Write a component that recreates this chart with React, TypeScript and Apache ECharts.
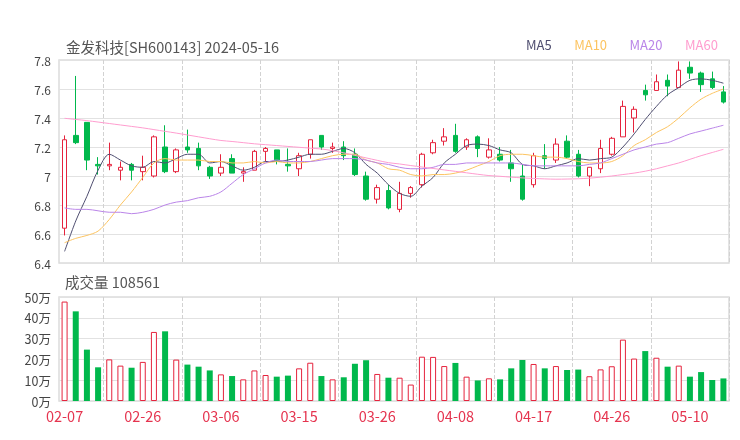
import React, { useEffect, useRef } from 'react';
import * as echarts from 'echarts';

const dates = ['02-07','02-08','02-19','02-20','02-21','02-22','02-23','02-26','02-27','02-28','02-29','03-01','03-04','03-05','03-06','03-07','03-08','03-11','03-12','03-13','03-14','03-15','03-18','03-19','03-20','03-21','03-22','03-25','03-26','03-27','03-28','03-29','04-01','04-02','04-03','04-08','04-09','04-10','04-11','04-12','04-15','04-16','04-17','04-18','04-19','04-22','04-23','04-24','04-25','04-26','04-29','04-30','05-06','05-07','05-08','05-09','05-10','05-13','05-14','05-15'];

const opens = [6.64, 7.28, 7.37, 7.08, 7.07, 7.04, 7.08, 7.03, 7.00, 7.20, 7.03, 7.20, 7.19, 7.06, 7.02, 7.12, 7.02, 7.04, 7.17, 7.18, 7.08, 7.05, 7.15, 7.28, 7.19, 7.20, 7.15, 7.00, 6.84, 6.90, 6.77, 6.88, 6.94, 7.16, 7.24, 7.28, 7.20, 7.27, 7.13, 7.15, 7.09, 7.00, 6.94, 7.14, 7.11, 7.24, 7.15, 7.00, 7.05, 7.15, 7.27, 7.40, 7.59, 7.59, 7.66, 7.61, 7.75, 7.71, 7.67, 7.58];
const closes = [7.25, 7.23, 7.11, 7.07, 7.08, 7.06, 7.04, 7.06, 7.27, 7.03, 7.18, 7.18, 7.07, 7.00, 7.06, 7.02, 7.03, 7.17, 7.19, 7.10, 7.07, 7.14, 7.25, 7.20, 7.20, 7.14, 7.01, 6.84, 6.92, 6.78, 6.88, 6.92, 7.15, 7.23, 7.27, 7.17, 7.25, 7.19, 7.18, 7.11, 7.05, 6.84, 7.14, 7.12, 7.22, 7.13, 7.00, 7.06, 7.19, 7.26, 7.48, 7.46, 7.56, 7.65, 7.62, 7.73, 7.71, 7.63, 7.61, 7.51];
const lows = [6.59, 7.22, 7.04, 7.01, 7.04, 6.97, 6.97, 6.97, 6.99, 7.02, 7.02, 7.16, 7.04, 6.98, 7.00, 7.02, 6.96, 7.04, 7.10, 7.08, 7.03, 7.00, 7.12, 7.18, 7.16, 7.11, 7.00, 6.83, 6.81, 6.77, 6.75, 6.85, 6.92, 7.15, 7.21, 7.16, 7.18, 7.13, 7.12, 7.10, 6.96, 6.83, 6.92, 7.05, 7.09, 7.12, 6.99, 6.93, 7.02, 7.14, 7.27, 7.30, 7.52, 7.59, 7.55, 7.61, 7.67, 7.58, 7.60, 7.50];
const highs = [7.28, 7.69, 7.37, 7.13, 7.23, 7.10, 7.09, 7.14, 7.28, 7.35, 7.19, 7.32, 7.23, 7.07, 7.15, 7.15, 7.06, 7.18, 7.20, 7.18, 7.19, 7.16, 7.25, 7.28, 7.23, 7.24, 7.19, 7.03, 6.94, 6.94, 6.96, 6.93, 7.16, 7.25, 7.33, 7.36, 7.26, 7.28, 7.26, 7.20, 7.18, 7.08, 7.16, 7.22, 7.26, 7.28, 7.18, 7.06, 7.25, 7.27, 7.52, 7.48, 7.63, 7.70, 7.70, 7.79, 7.79, 7.72, 7.72, 7.62];

const ma5 = [6.48, 6.69, 6.86, 7.04, 7.15, 7.11, 7.07, 7.06, 7.10, 7.09, 7.12, 7.15, 7.15, 7.09, 7.10, 7.07, 7.04, 7.06, 7.10, 7.10, 7.11, 7.13, 7.15, 7.15, 7.17, 7.19, 7.16, 7.08, 7.02, 6.94, 6.88, 6.86, 6.93, 6.99, 7.09, 7.15, 7.21, 7.22, 7.21, 7.18, 7.16, 7.08, 7.07, 7.05, 7.07, 7.09, 7.12, 7.11, 7.12, 7.13, 7.20, 7.29, 7.39, 7.48, 7.56, 7.61, 7.66, 7.67, 7.66, 7.64];
const ma10 = [6.54, 6.57, 6.59, 6.62, 6.70, 6.80, 6.89, 6.99, 7.09, 7.12, 7.11, 7.11, 7.11, 7.10, 7.10, 7.09, 7.09, 7.10, 7.09, 7.10, 7.09, 7.09, 7.10, 7.12, 7.14, 7.15, 7.15, 7.11, 7.09, 7.05, 7.04, 7.01, 7.00, 7.01, 7.01, 7.02, 7.04, 7.07, 7.10, 7.14, 7.15, 7.15, 7.14, 7.13, 7.13, 7.12, 7.10, 7.09, 7.09, 7.10, 7.14, 7.21, 7.25, 7.30, 7.34, 7.40, 7.47, 7.53, 7.57, 7.60];
const ma20 = [6.78, 6.77, 6.77, 6.76, 6.75, 6.75, 6.74, 6.75, 6.77, 6.80, 6.82, 6.83, 6.85, 6.86, 6.89, 6.95, 7.01, 7.05, 7.09, 7.11, 7.10, 7.10, 7.10, 7.11, 7.12, 7.12, 7.12, 7.11, 7.09, 7.08, 7.06, 7.05, 7.05, 7.06, 7.08, 7.08, 7.09, 7.09, 7.09, 7.09, 7.09, 7.08, 7.07, 7.07, 7.07, 7.07, 7.07, 7.08, 7.09, 7.12, 7.15, 7.18, 7.20, 7.22, 7.23, 7.26, 7.29, 7.31, 7.33, 7.35];
const ma60 = [7.398, 7.390, 7.382, 7.372, 7.362, 7.352, 7.342, 7.332, 7.320, 7.308, 7.296, 7.283, 7.270, 7.257, 7.245, 7.238, 7.230, 7.222, 7.216, 7.210, 7.204, 7.198, 7.192, 7.186, 7.175, 7.160, 7.142, 7.125, 7.108, 7.092, 7.083, 7.072, 7.062, 7.052, 7.042, 7.032, 7.022, 7.012, 7.003, 6.998, 6.992, 6.987, 6.983, 6.980, 6.978, 6.979, 6.981, 6.985, 6.992, 7.000, 7.010, 7.020, 7.033, 7.050, 7.070, 7.090, 7.115, 7.140, 7.162, 7.184];

// volume in 万 (10k shares)
const volumes = [47.8, 43.1, 24.7, 16.2, 20.0, 17.0, 16.0, 18.8, 33.2, 33.5, 19.9, 17.5, 16.5, 14.7, 12.8, 12.0, 10.4, 14.7, 12.5, 11.7, 12.2, 15.7, 18.4, 12.0, 10.4, 11.4, 17.9, 19.6, 13.0, 11.2, 11.2, 7.9, 21.3, 21.2, 16.8, 18.3, 11.7, 9.9, 10.9, 10.4, 15.7, 19.7, 17.8, 15.7, 16.8, 14.9, 15.1, 11.9, 15.2, 16.7, 29.5, 20.4, 24.0, 20.8, 16.5, 17.0, 11.7, 13.9, 10.1, 10.8561];

const maNames = ['MA5', 'MA10', 'MA20', 'MA60'];
const maColors = ['#4f4e70', '#fcc461', '#ba85e8', '#ff9dcf'];

const UP = '#e5233d';
const DOWN = '#00b84c';
const FONT = "'Noto Sans CJK SC', 'Noto Sans', sans-serif";

export default function App() {
  const ref = useRef<HTMLDivElement>(null);
  useEffect(() => {
    const chart = echarts.init(ref.current!, null, { renderer: 'svg' });
    const candleData = dates.map((_, i) => [opens[i], closes[i], lows[i], highs[i]]);
    const volData = volumes.map((v, i) => ({
      value: v,
      itemStyle: closes[i] >= opens[i]
        ? { color: '#ffffff', borderColor: UP, borderWidth: 1 }
        : { color: DOWN },
    }));
    const maData = [ma5, ma10, ma20, ma60];
    const splitX = {
      show: true,
      interval: (i: number) => i % 7 === 4,
      lineStyle: { type: 'dashed', color: '#d2d2d2', width: 1 },
    };
    chart.setOption({
      animation: false,
      textStyle: { fontFamily: FONT },
      title: [
        {
          text: '金发科技[SH600143] 2024-05-16',
          left: 66, top: 39, padding: 0,
          textStyle: { fontSize: 14.5, fontWeight: 'normal', color: '#555', fontFamily: FONT },
        },
        {
          text: '成交量 ' + Math.round(volumes[volumes.length - 1] * 10000),
          left: 65, top: 274, padding: 0,
          textStyle: { fontSize: 14.5, fontWeight: 'normal', color: '#555', fontFamily: FONT },
        },
      ],
      legend: {
        left: 521, top: 38, padding: 0,
        itemWidth: 0, itemHeight: 0, itemGap: 17.5,
        selectedMode: false,
        textStyle: { fontSize: 13, fontFamily: FONT },
        data: maNames.map((n, i) => ({ name: n, icon: 'rect', textStyle: { color: maColors[i] } })),
      },
      grid: [
        { left: 59, right: 11, top: 60, height: 203, show: true, borderColor: '#dcdcdc', borderWidth: 1.5 },
        { left: 59, right: 11, top: 297, height: 104, show: true, borderColor: '#dcdcdc', borderWidth: 1.5 },
      ],
      xAxis: [
        {
          type: 'category', gridIndex: 0, data: dates, boundaryGap: true,
          axisLine: { show: false }, axisTick: { show: false }, axisLabel: { show: false },
          splitLine: splitX,
        },
        {
          type: 'category', gridIndex: 1, data: dates, boundaryGap: true,
          axisLine: { show: false }, axisTick: { show: false },
          axisLabel: { interval: 6, color: '#e5344f', fontSize: 14.5, margin: 7, fontFamily: FONT },
          splitLine: splitX,
        },
      ],
      yAxis: [
        {
          type: 'value', gridIndex: 0, min: 6.4, max: 7.8, interval: 0.2,
          axisLine: { show: false }, axisTick: { show: false },
          axisLabel: {
            color: '#444', fontSize: 12, margin: 8, fontFamily: FONT,
            formatter: (v: number) => String(Number(v.toFixed(1))),
          },
          splitLine: { lineStyle: { color: '#e2e2e2', width: 1 } },
        },
        {
          type: 'value', gridIndex: 1, min: 0, max: 50, interval: 10,
          axisLine: { show: false }, axisTick: { show: false },
          axisLabel: {
            color: '#444', fontSize: 12.5, margin: 8, fontFamily: FONT,
            formatter: (v: number) => v + '万',
          },
          splitLine: { lineStyle: { color: '#e2e2e2', width: 1 } },
        },
      ],
      series: [
        {
          type: 'candlestick', name: 'K', xAxisIndex: 0, yAxisIndex: 0,
          data: candleData, barWidth: 5,
          itemStyle: { color: '#ffffff', color0: DOWN, borderColor: UP, borderColor0: DOWN, borderWidth: 1 },
        },
        ...maData.map((d, i) => ({
          type: 'line', name: maNames[i], xAxisIndex: 0, yAxisIndex: 0,
          data: d, showSymbol: false, symbol: 'none', smooth: 0.3,
          lineStyle: { color: maColors[i], width: 1 },
          itemStyle: { color: maColors[i] },
        })),
        {
          type: 'bar', name: 'VOL', xAxisIndex: 1, yAxisIndex: 1,
          data: volData, barWidth: 6,
        },
      ],
    });
    return () => chart.dispose();
  }, []);
  return <div ref={ref} style={{ position: 'fixed', left: 0, top: 0, width: 740, height: 440 }} />;
}
